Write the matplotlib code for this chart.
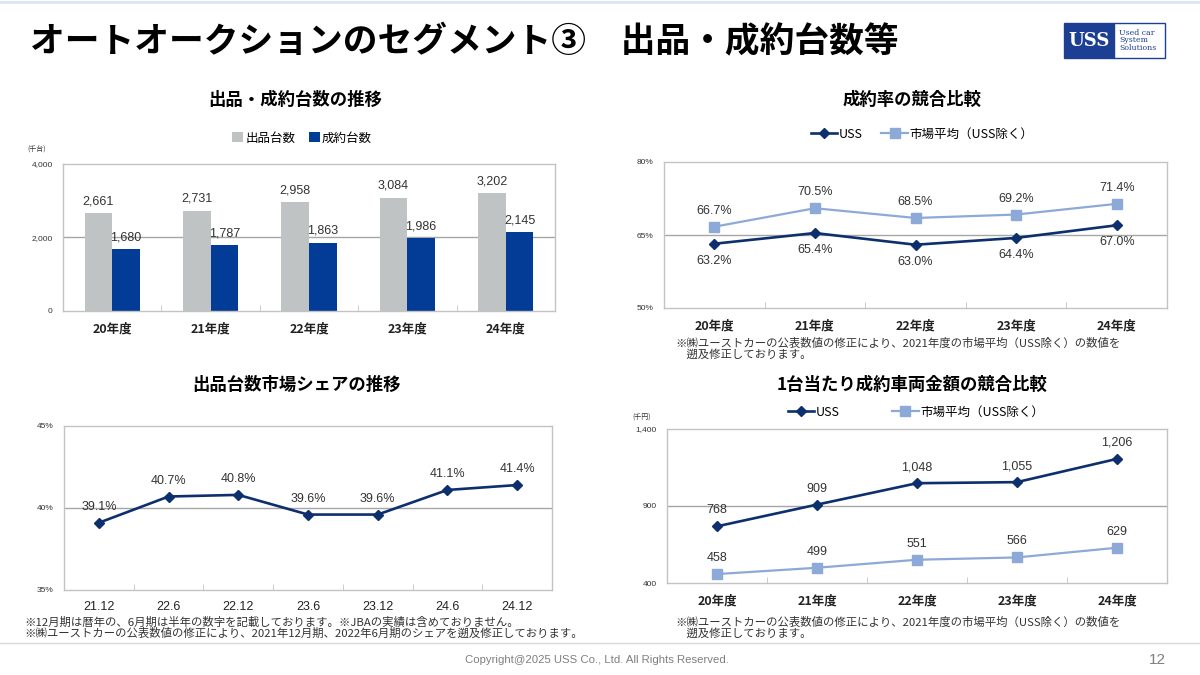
import matplotlib
matplotlib.use("Agg")
import matplotlib.pyplot as plt
from matplotlib.patches import Rectangle
from matplotlib.lines import Line2D

plt.rcParams['font.family'] = ['Noto Sans CJK JP', 'DejaVu Sans']

# ---------------- data ----------------
years = ["20年度", "21年度", "22年度", "23年度", "24年度"]
listed_units = [2661, 2731, 2958, 3084, 3202]        # 出品台数 (千台)
contracted_units = [1680, 1787, 1863, 1986, 2145]    # 成約台数 (千台)

rate_uss = [63.2, 65.4, 63.0, 64.4, 67.0]            # 成約率 USS (%)
rate_market = [66.7, 70.5, 68.5, 69.2, 71.4]         # 市場平均 (%)

share_periods = ["21.12", "22.6", "22.12", "23.6", "23.12", "24.6", "24.12"]
share_values = [39.1, 40.7, 40.8, 39.6, 39.6, 41.1, 41.4]

price_uss = [768, 909, 1048, 1055, 1206]             # 千円
price_market = [458, 499, 551, 566, 629]

GRAY_BAR = "#BFC3C4"
NAVY_BAR = "#033C97"
NAVY_LINE = "#0E2F6E"
LIGHT_LINE = "#8DA9D8"
FRAME = "#C3C3C3"
GRID = "#A6A6A6"
TXT = "#333333"
NUMFONT = ["Liberation Sans", "DejaVu Sans"]

W, H = 1200, 675
PT = 72 / 100  # points per pixel
fig = plt.figure(figsize=(12, 6.75), dpi=100)
fig.patch.set_facecolor("white")


def px_axes(x0, y0, x1, y1):
    return fig.add_axes([x0 / W, 1 - y1 / H, (x1 - x0) / W, (y1 - y0) / H])


def fx(x):
    return x / W


def fy(y):
    return 1 - y / H


def style_axes(ax, n, yticks, ylabels, xlabels, bold_x=True):
    for s in ax.spines.values():
        s.set_color(FRAME)
        s.set_linewidth(1.0)
    ax.set_xlim(-0.5, n - 0.5)
    ax.set_xticks(range(n))
    if bold_x:
        ax.set_xticklabels(xlabels, fontsize=9, fontweight="bold", color="#222222")
    else:
        ax.set_xticklabels(xlabels, fontsize=9, color="#222222", family=NUMFONT)
    ax.tick_params(axis="x", length=0, pad=8)
    ax.set_xticks([i + 0.5 for i in range(n - 1)], minor=True)
    ax.tick_params(axis="x", which="minor", length=4, direction="in", color=FRAME)
    ax.set_yticks(yticks)
    ax.set_yticklabels(ylabels, fontsize=6, color=TXT, family=NUMFONT)
    ax.tick_params(axis="y", length=0, pad=7.5)
    ax.set_ylim(yticks[0], yticks[-1])
    ax.axhline(yticks[1], color=GRID, lw=1.0, zorder=1)


def label(ax, xv, yv, text, dy_px):
    ax.annotate(text, (xv, yv), xytext=(0, dy_px * PT), textcoords="offset points",
                ha="center", va="center", fontsize=9, color=TXT, family=NUMFONT)


# ---------------- header ----------------
fig.text(fx(30), fy(42), "オートオークションのセグメント③　出品・成約台数等",
         fontsize=25, fontweight="bold", color="black", va="center", ha="left")
fig.add_artist(Line2D([0, 1], [fy(1.5), fy(1.5)], color="#DCE6F0", lw=2, transform=fig.transFigure))

# logo
fig.add_artist(Rectangle((fx(1064), fy(58)), fx(50), 35 / H, transform=fig.transFigure,
                         facecolor="#1C3F94", edgecolor="#1C3F94"))
fig.add_artist(Rectangle((fx(1114), fy(58)), fx(51), 35 / H, transform=fig.transFigure,
                         facecolor="white", edgecolor="#1C3F94", lw=1))
fig.text(fx(1089), fy(40.5), "USS", fontsize=13, fontweight="bold", color="white",
         family=["DejaVu Serif"], ha="center", va="center")
fig.text(fx(1119), fy(40.5), "Used car\nSystem\nSolutions", fontsize=5.6, color="#1C3F94",
         family=["DejaVu Serif"], ha="left", va="center", linespacing=0.95)

# ---------------- chart 1: bars ----------------
ax1 = px_axes(63, 164, 555, 311)
x = list(range(len(years)))
bw = 0.28
b1 = ax1.bar([i - bw / 2 for i in x], listed_units, width=bw, color=GRAY_BAR, zorder=2, label="出品台数")
b2 = ax1.bar([i + bw / 2 for i in x], contracted_units, width=bw, color=NAVY_BAR, zorder=2, label="成約台数")
style_axes(ax1, 5, [0, 2000, 4000], ["0", "2,000", "4,000"], years)
for i in x:
    label(ax1, i - bw / 2, listed_units[i], f"{listed_units[i]:,}", 12)
    label(ax1, i + bw / 2, contracted_units[i], f"{contracted_units[i]:,}", 12)
fig.text(fx(295), fy(100), "出品・成約台数の推移", fontsize=12.5, fontweight="bold", ha="center", va="center")
fig.text(fx(27), fy(150), "(千台)", fontsize=5, color=TXT, ha="left", va="center")
ax1.legend(handles=[b1, b2], loc="center", bbox_to_anchor=(fx(302), fy(138)),
           bbox_transform=fig.transFigure, ncol=2, frameon=False, fontsize=9,
           handlelength=0.85, handleheight=0.85, handletextpad=0.2, columnspacing=1.1)

# ---------------- chart 2: contract rate ----------------
ax2 = px_axes(664, 162, 1167, 308)
style_axes(ax2, 5, [50, 65, 80], ["50%", "65%", "80%"], years)
l_uss, = ax2.plot(x, rate_uss, color=NAVY_LINE, lw=1.9, marker="D", ms=5, zorder=3, label="USS")
l_mkt, = ax2.plot(x, rate_market, color=LIGHT_LINE, lw=1.6, marker="s", ms=7, zorder=3,
                  label="市場平均（USS除く）")
for i in x:
    label(ax2, i, rate_market[i], f"{rate_market[i]:.1f}%", 16)
    label(ax2, i, rate_uss[i], f"{rate_uss[i]:.1f}%", -17)
fig.text(fx(912), fy(100), "成約率の競合比較", fontsize=12.5, fontweight="bold", ha="center", va="center")
ax2.legend(handles=[l_uss, l_mkt], loc="center", bbox_to_anchor=(fx(922), fy(134)),
           bbox_transform=fig.transFigure, ncol=2, frameon=False, fontsize=9,
           handlelength=2.1, handletextpad=0.15, columnspacing=1.5)
fig.text(fx(675), fy(349), "※㈱ユーストカーの公表数値の修正により、2021年度の市場平均（USS除く）の数値を\n　遡及修正しております。",
         fontsize=8.2, color=TXT, ha="left", va="center", linespacing=1.05)

# ---------------- chart 3: share ----------------
ax3 = px_axes(64, 426, 552, 590)
xs = list(range(len(share_periods)))
style_axes(ax3, 7, [35, 40, 45], ["35%", "40%", "45%"], share_periods, bold_x=False)
ax3.plot(xs, share_values, color=NAVY_LINE, lw=1.9, marker="D", ms=5, zorder=3)
for i in xs:
    label(ax3, i, share_values[i], f"{share_values[i]:.1f}%", 16)
fig.text(fx(296), fy(385), "出品台数市場シェアの推移", fontsize=12.5, fontweight="bold", ha="center", va="center")
fig.text(fx(24), fy(628), "※12月期は暦年の、6月期は半年の数字を記載しております。※JBAの実績は含めておりません。\n※㈱ユーストカーの公表数値の修正により、2021年12月期、2022年6月期のシェアを遡及修正しております。",
         fontsize=8.2, color=TXT, ha="left", va="center", linespacing=1.0)

# ---------------- chart 4: price per unit ----------------
ax4 = px_axes(667, 429, 1167, 583)
style_axes(ax4, 5, [400, 900, 1400], ["400", "900", "1,400"], years)
p_uss, = ax4.plot(x, price_uss, color=NAVY_LINE, lw=1.9, marker="D", ms=5, zorder=3, label="USS")
p_mkt, = ax4.plot(x, price_market, color=LIGHT_LINE, lw=1.6, marker="s", ms=7, zorder=3,
                  label="市場平均（USS除く）")
for i in x:
    label(ax4, i, price_uss[i], f"{price_uss[i]:,}", 16)
    label(ax4, i, price_market[i], f"{price_market[i]:,}", 16)
fig.text(fx(912), fy(385), "1台当たり成約車両金額の競合比較", fontsize=12.5, fontweight="bold", ha="center", va="center")
fig.text(fx(632), fy(418), "(千円)", fontsize=5, color=TXT, ha="left", va="center")
ax4.legend(handles=[p_uss, p_mkt], loc="center", bbox_to_anchor=(fx(916), fy(412)),
           bbox_transform=fig.transFigure, ncol=2, frameon=False, fontsize=9,
           handlelength=2.1, handletextpad=0.15, columnspacing=4.2)
fig.text(fx(675), fy(628), "※㈱ユーストカーの公表数値の修正により、2021年度の市場平均（USS除く）の数値を\n　遡及修正しております。",
         fontsize=8.2, color=TXT, ha="left", va="center", linespacing=1.05)

# ---------------- footer ----------------
fig.add_artist(Line2D([0, 1], [fy(643), fy(643)], color="#D9D9D9", lw=1, transform=fig.transFigure))
fig.text(fx(597), fy(660), "Copyright@2025 USS Co., Ltd. All Rights Reserved.", fontsize=8.2,
         color="#7F7F7F", ha="center", va="center", family=["Liberation Sans Narrow", "Liberation Sans"])
fig.text(fx(1157), fy(660), "12", fontsize=11, color="#7F7F7F", ha="center", va="center",
         family=["Liberation Sans"])

fig.savefig("out.png", dpi=100, facecolor="white")
